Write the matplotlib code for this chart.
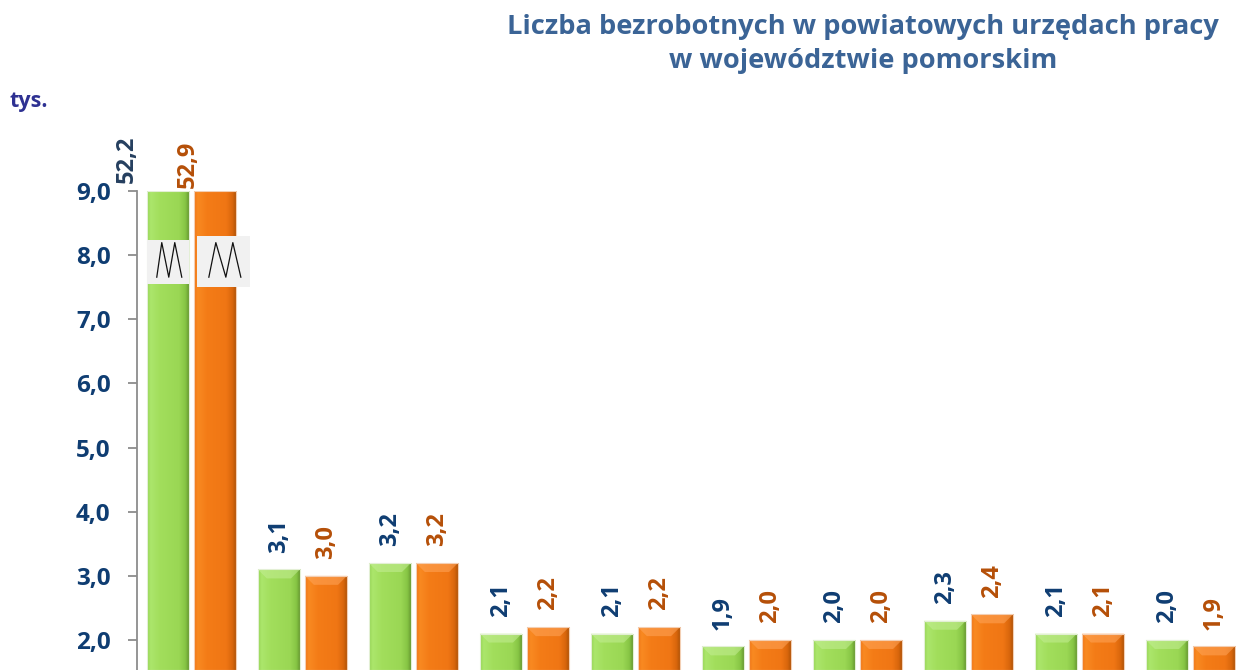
import numpy as np
import matplotlib
matplotlib.use("Agg")
import matplotlib.pyplot as plt
from matplotlib.patches import Rectangle, Polygon
from matplotlib.colors import LinearSegmentedColormap

# ---- data ----
categories = list(range(10))
series_a = [52.2, 3.1, 3.2, 2.1, 2.1, 1.9, 2.0, 2.3, 2.1, 2.0]   # green
series_b = [52.9, 3.0, 3.2, 2.2, 2.2, 2.0, 2.0, 2.4, 2.1, 1.9]   # orange
yticks = [2.0, 3.0, 4.0, 5.0, 6.0, 7.0, 8.0, 9.0]
title = "Liczba bezrobotnych w powiatowych urzędach pracy\nw województwie pomorskim"
unit_label = "tys."

plt.rcParams['font.family'] = ['Open Sans', 'DejaVu Sans']

W, H = 1236, 670
fig = plt.figure(figsize=(W / 100, H / 100), dpi=100)
ax_left = 137 / W
ax_top = 1 - 191 / H
ax = fig.add_axes([ax_left, 0.0, 1.0 - ax_left, ax_top])

YMIN, YMAX = 1.53125, 9.0
XMIN, XMAX = -0.49, 9.41
ax.set_ylim(YMIN, YMAX)
ax.set_xlim(XMIN, XMAX)

px_x = 1 / 111.0
px_y = 1 / 64.0

x = np.arange(len(categories))
bw = 0.38
off = 0.212

green_cmap = LinearSegmentedColormap.from_list(
    "g", [(0, "#93d352"), (0.08, "#ace66c"), (0.3, "#a2de5c"),
          (0.75, "#9ad754"), (0.9, "#86c444"), (1.0, "#5f8f2c")])
orange_cmap = LinearSegmentedColormap.from_list(
    "o", [(0, "#ee7314"), (0.08, "#f98a22"), (0.3, "#f47c17"),
          (0.75, "#f07614"), (0.9, "#d9660c"), (1.0, "#a85006")])

grad = np.linspace(0, 1, 128).reshape(1, -1)

def draw_bars(xs, vals, cmap, bevel_col, edge):
    bars = ax.bar(xs, vals, width=bw, color="none", edgecolor="none", zorder=2)
    for b in bars:
        x0, w = b.get_x(), b.get_width()
        h = min(b.get_height(), YMAX)
        im = ax.imshow(grad, cmap=cmap, aspect="auto",
                       extent=[x0, x0 + w, YMIN, h], zorder=2,
                       interpolation="bicubic")
        im.set_clip_path(b)
        if b.get_height() <= YMAX:
            bx, by = 9 * px_x, 9 * px_y
            ax.add_patch(Polygon([(x0, h), (x0 + w, h), (x0 + w - bx, h - by),
                                  (x0 + bx, h - by)], closed=True,
                                 facecolor=bevel_col, edgecolor="none",
                                 alpha=0.55, zorder=3))
        ax.add_patch(Rectangle((x0, YMIN), w, h - YMIN, fill=False,
                               edgecolor=edge, linewidth=0.8, zorder=3))
    return bars

bars_a = draw_bars(x - off, series_a, green_cmap, "#c4ee95", "#e3efd5")
bars_b = draw_bars(x + off, series_b, orange_cmap, "#ffa55a", "#f3cfb4")
ax.set_xlim(XMIN, XMAX)
ax.set_ylim(YMIN, YMAX)

def fmt(v):
    return f"{v:.1f}".replace(".", ",")

for bars, vals, col in ((bars_a, series_a, "#0f3d72"), (bars_b, series_b, "#b54f08")):
    for b, v in zip(bars, vals):
        cx = b.get_x() + b.get_width() / 2
        top = min(v, YMAX)
        c = col
        dx, pad = 0, 12
        if v > YMAX:
            if col == "#0f3d72":
                dx, pad = -29.5, 6
                c = "#253f5f"
            else:
                dx, pad = -19.5, 2.5
        ax.annotate(fmt(v), (cx, top), xytext=(dx, pad), textcoords="offset points",
                    rotation=90, ha="center", va="bottom", fontsize=17,
                    fontweight="bold", color=c, annotation_clip=False)

# axis break markers on the truncated bars (pixel offsets relative to bar)
def py(p):
    return YMAX - (p - 191) * px_y

breaks = ((bars_a[0], 0, 0, 240, 284, (10, 15, 22, 28, 35)),
          (bars_b[0], 3, 14, 236, 287, (15, 22, 32, 39, 47)))
for b, dx0, dx1, y0, y1, zz in breaks:
    x0 = b.get_x() + dx0 * px_x
    x1 = b.get_x() + b.get_width() + dx1 * px_x
    ax.add_patch(Rectangle((x0, py(y1)), x1 - x0, py(y0) - py(y1),
                           facecolor="#f1f1f1", edgecolor="none", zorder=4))
    xs = [b.get_x() + d * px_x for d in zz]
    ys = [py(277), py(242.5), py(277), py(242.5), py(277)]
    ax.plot(xs, ys, color="#111111", linewidth=0.9, zorder=5)

# axes styling
for s in ("top", "right", "bottom"):
    ax.spines[s].set_visible(False)
ax.spines["left"].set_color("#8c8c8c")
ax.spines["left"].set_linewidth(1.3)
ax.set_yticks(yticks)
ax.set_yticklabels([fmt(t) for t in yticks])
ax.tick_params(axis="y", direction="out", length=6.5, width=1.3, color="#8c8c8c",
               labelsize=17.5, labelcolor="#0f3d72", pad=12.5)
for lab in ax.get_yticklabels():
    lab.set_fontweight("bold")
ax.set_xticks([])
ax.patch.set_alpha(0)

fig.text(863 / W, 1 - 44 / H, title, ha="center", va="center", fontsize=19.6,
         fontweight="bold", color="#3b6496", linespacing=1.42)
fig.text(10 / W, 1 - 101 / H, unit_label, ha="left", va="center", fontsize=15.5,
         fontweight="bold", color="#2e3192")

fig.savefig("out.png", dpi=100)
